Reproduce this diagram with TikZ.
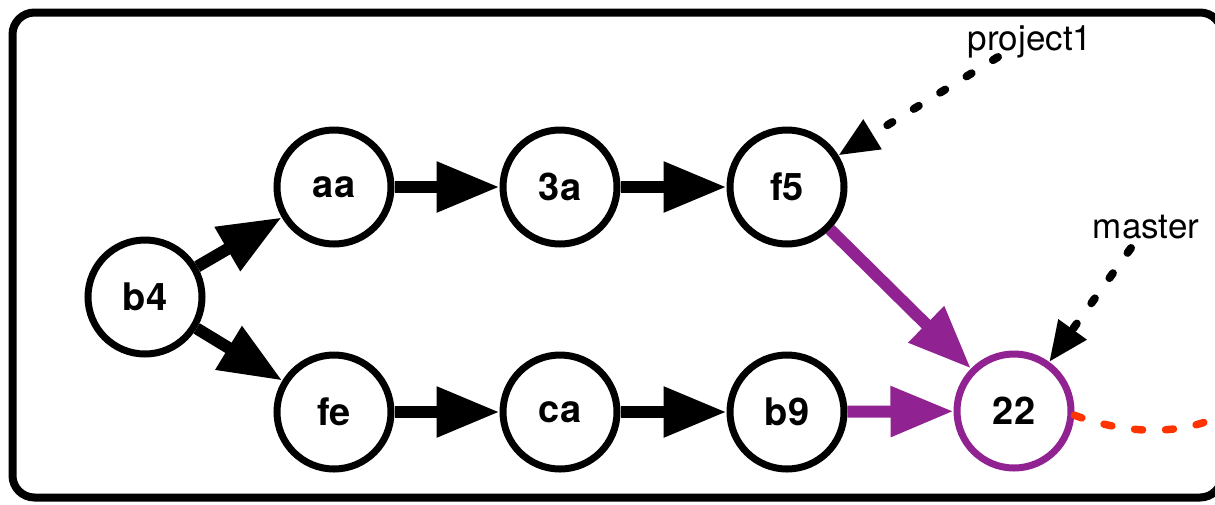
\documentclass[tikz,border=0pt]{standalone}
\usepackage{fontspec}
\setmainfont{TeX Gyre Heros}
\usetikzlibrary{arrows.meta}
\definecolor{gpurple}{RGB}{145,34,145}
\definecolor{gred}{RGB}{255,51,0}
\begin{document}
\begin{tikzpicture}[x=1pt,y=-1pt,
  commit/.style={circle,draw=black,line width=7pt,minimum size=114pt,inner sep=0pt,
    font=\fontsize{38}{45}\selectfont\bfseries,fill=white},
  headcommit/.style={commit,draw=gpurple},
  parentlink/.style={line width=12pt,-{Triangle[length=63pt,width=48pt]}},
  mergelink/.style={parentlink,draw=gpurple,fill=gpurple},
  reflink/.style={line width=8pt,line cap=round,dash pattern=on 6pt off 25pt,
    -{Triangle[length=40pt,width=33pt]}},
  reflabel/.style={font=\fontsize{35}{42}\selectfont,anchor=base,inner sep=0pt},
  upstream/.style={line width=7.5pt,line cap=round,dash pattern=on 8pt off 23pt,draw=gred}
]
\useasboundingbox (0,0) rectangle (1215,504);
\clip (0,0) rectangle (1215,504);
\fill[white] (0,0) rectangle (1215,504);
\draw[line width=8pt,rounded corners=22pt] (12.5,12.5) rectangle (1222,497.5);

\node[commit] (b4) at (145,297) {b4};
\node[commit] (aa) at (334,187) {aa};
\node[commit] (fe) at (334,412) {fe};
\node[commit] (3a) at (560,187) {3a};
\node[commit] (ca) at (560,412) {ca};
\node[commit] (f5) at (787,187) {f5};
\node[commit] (b9) at (787,412) {b9};
\node[headcommit] (22) at (1014,411) {22};

\node[reflabel] (p1) at (1030,50) {project1};
\node[reflabel] (ms) at (1146,238) {master};
\coordinate (p1s) at (998,57);
\coordinate (mss) at (1131,248);
\coordinate (upend) at (1232,410);

\draw[parentlink] (b4) -- (aa);
\draw[parentlink] (b4) -- (fe);
\draw[parentlink] (aa) -- (3a);
\draw[parentlink] (3a) -- (f5);
\draw[parentlink] (fe) -- (ca);
\draw[parentlink] (ca) -- (b9);
\draw[mergelink] (f5) -- (22);
\draw[mergelink] (b9) -- (22);

\draw[reflink] (p1s) -- (f5);
\draw[reflink] (mss) -- (22);

\draw[upstream] (22.-4) .. controls (1120,432) and (1180,440) .. (upend);
\end{tikzpicture}
\end{document}
